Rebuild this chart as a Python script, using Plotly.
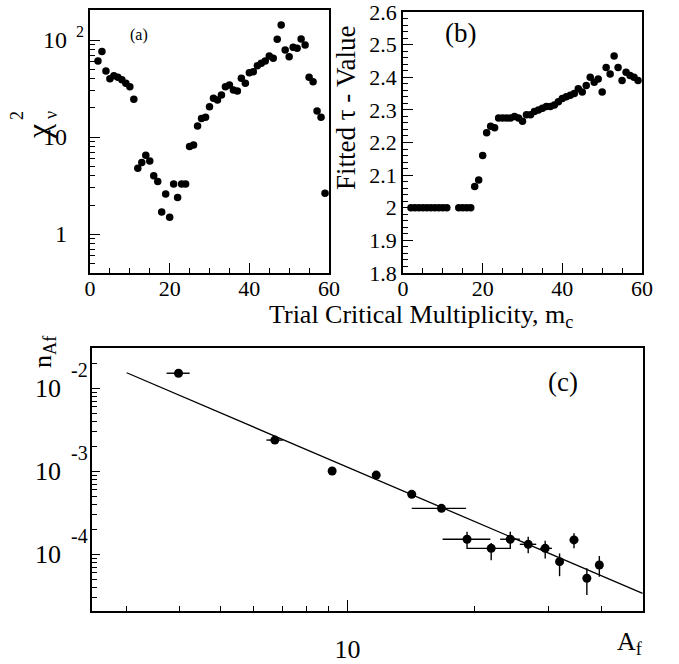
import numpy as np
import plotly.graph_objects as go

W, H = 679, 664
FONT = "Liberation Serif"

# ---------------- Panel (a): reduced chi^2 vs trial critical multiplicity
m_a = list(range(2, 60))
chi2_a = [61, 76, 48, 40, 43, 41.5, 39, 36, 33, 24.5,
          4.8, 5.5, 6.5, 5.7, 4.0, 3.5, 1.7, 2.6, 1.5, 3.3,
          2.4, 3.3, 3.3, 8.0, 8.3, 13.0, 15.6, 16.0, 20.6, 25.1,
          24.1, 27.2, 33.1, 34.4, 30.6, 29.9, 40.4, 35.8, 46.1, 47.2,
          54.5, 57.5, 60.8, 68.4, 64.8, 101.6, 142.6, 78.9, 67.3, 84.1,
          82.2, 102.4, 88.9, 41.3, 37.2, 18.6, 16.0, 2.65]

# ---------------- Panel (b): fitted tau vs trial critical multiplicity
m_b = [2, 3, 4, 5, 6, 7, 8, 9, 10, 11, 14, 15, 16, 17] + list(range(18, 60))
tau_b = [2.0, 2.0, 2.0, 2.0, 2.0, 2.0, 2.0, 2.0, 2.0, 2.0, 2.0, 2.0, 2.0, 2.0,
         2.065, 2.085, 2.16, 2.23, 2.25, 2.245, 2.275, 2.275, 2.275, 2.275,
         2.28, 2.275, 2.265, 2.285, 2.285, 2.295, 2.30, 2.305, 2.31, 2.31,
         2.315, 2.325, 2.335, 2.34, 2.345, 2.35, 2.365, 2.355, 2.375, 2.40,
         2.385, 2.395, 2.355, 2.43, 2.41, 2.465, 2.43, 2.39, 2.415, 2.405,
         2.40, 2.39]

# ---------------- Panel (c): fragment yield vs fragment mass
Af = [3.98, 6.73, 9.2, 11.7, 14.2, 16.7, 19.2, 21.9, 24.3, 26.8, 29.4, 31.8, 34.4, 36.9, 39.5]
nAf = [1.52e-2, 2.38e-3, 1.01e-3, 9.0e-4, 5.28e-4, 3.58e-4, 1.52e-4, 1.18e-4,
       1.52e-4, 1.32e-4, 1.18e-4, 8.15e-5, 1.49e-4, 5.14e-5, 7.43e-5]
Af_err_minus = [0.25, 0.3, 0, 0, 0, 2.5, 2.4, 2.7, 1.3, 1.2, 0.8, 0.6, 0.8, 0.4, 0.8]
Af_err_plus = [0.25, 0.3, 0, 0, 0, 2.4, 2.6, 2.4, 1.3, 1.2, 1.1, 0.6, 0.8, 0.4, 0.8]
n_err_plus = [0, 0, 0, 0, 0, 0, 3.5e-5, 1.9e-5, 3.5e-5, 3.1e-5, 2.8e-5, 2.1e-5, 3.0e-5, 1.64e-5, 2.1e-5]
n_err_minus = [0, 0, 0, 0, 0, 0, 3.6e-5, 3.3e-5, 3.6e-5, 2.9e-5, 2.9e-5, 2.7e-5, 3.1e-5, 1.9e-5, 2.06e-5]
fit_Af = [3.0, 50.0]
fit_n = [1.54e-2, 3.39e-5]

# tick labels
a_x_ticks = [0, 20, 40, 60]
a_y_ticks = [1, 10, 100]
b_y_ticks = [1.8, 1.9, 2.0, 2.1, 2.2, 2.3, 2.4, 2.5, 2.6]
b_y_text = ["1.8", "1.9", "2", "2.1", "2.2", "2.3", "2.4", "2.5", "2.6"]
c_x_ticks = [10]
c_y_decades = [-2, -3, -4]


def px(x):
    return x / W


def py(y):
    return 1 - y / H


fig = go.Figure()
mk = dict(color="black", size=7.5)
fig.add_trace(go.Scatter(x=m_a, y=chi2_a, mode="markers", marker=mk, xaxis="x", yaxis="y"))
fig.add_trace(go.Scatter(x=m_b, y=tau_b, mode="markers", marker=mk, xaxis="x2", yaxis="y2"))
fig.add_trace(go.Scatter(x=fit_Af, y=fit_n, mode="lines", line=dict(color="black", width=1.3),
                         xaxis="x3", yaxis="y3"))
fig.add_trace(go.Scatter(
    x=Af, y=nAf, mode="markers", marker=dict(color="black", size=9), xaxis="x3", yaxis="y3",
    error_x=dict(type="data", symmetric=False, array=Af_err_plus, arrayminus=Af_err_minus,
                 color="black", thickness=1.4, width=0),
    error_y=dict(type="data", symmetric=False, array=n_err_plus, arrayminus=n_err_minus,
                 color="black", thickness=1.4, width=0)))

tickfont = dict(family=FONT, size=22, color="black")
common = dict(showline=True, linecolor="black", linewidth=1.5, mirror=True, showgrid=False,
              zeroline=False, ticks="inside", tickcolor="black", tickwidth=1.2, tickfont=tickfont,
              ticklabeloverflow="allow", automargin=False)

lin_minor = dict(ticks="inside", ticklen=5, tickcolor="black", tickwidth=1, showgrid=False)


def log_minor(decs):
    vals = [k * 10.0 ** d for d in decs for k in range(2, 10)]
    return dict(ticks="inside", ticklen=5, tickcolor="black", tickwidth=1, showgrid=False,
                tickmode="array", tickvals=vals)


layout = dict(
    template="none",
    width=W, height=H, margin=dict(l=0, r=0, t=0, b=0, autoexpand=False),
    paper_bgcolor="white", plot_bgcolor="white", showlegend=False,
    font=dict(family=FONT, color="black"),
    xaxis=dict(domain=[px(90), px(329)], range=[0, 60], tickmode="array", tickvals=a_x_ticks,
               ticklen=10, ticklabelstandoff=-5, minor=dict(dtick=5, **lin_minor), anchor="y",
               **common),
    yaxis=dict(domain=[py(273), py(10)], type="log", range=[-0.398, 2.309], tickmode="array",
               tickvals=a_y_ticks, ticklen=10, showticklabels=False,
               minor=log_minor([-1, 0, 1, 2]), anchor="x", **common),
    xaxis2=dict(domain=[px(403), px(642)], range=[0, 60], tickmode="array", tickvals=a_x_ticks,
                ticklen=10, ticklabelstandoff=-5, minor=dict(dtick=5, **lin_minor), anchor="y2",
                **common),
    yaxis2=dict(domain=[py(273), py(12)], range=[1.8, 2.6], tickmode="array", tickvals=b_y_ticks,
                ticktext=b_y_text, ticklen=10, minor=dict(dtick=0.02, **lin_minor),
                anchor="x2", **common),
    xaxis3=dict(domain=[px(92), px(643)], type="log", range=[0.395, 1.700], tickmode="array",
                tickvals=c_x_ticks, ticktext=["10"], ticklen=11, ticklabelstandoff=14,
                minor=dict(ticks="inside", ticklen=5, tickcolor="black", tickwidth=1,
                           showgrid=False, tickmode="array",
                           tickvals=[3, 4, 5, 6, 7, 8, 9, 20, 30, 40]),
                anchor="y3", **{**common, "tickfont": dict(family=FONT, size=26, color="black")}),
    yaxis3=dict(domain=[py(611), py(348)], type="log", range=[-4.683, -1.514], tickmode="array",
                tickvals=[10.0 ** d for d in c_y_decades], ticklen=8, showticklabels=False,
                minor=log_minor([-5, -4, -3, -2]), anchor="x3", **common),
)
fig.update_layout(**layout)

ann = []


def txt(x, y, s, size, angle=0, xanchor="center", yanchor="middle", **kw):
    ann.append(dict(x=x, y=y, text=s, showarrow=False, textangle=angle, xanchor=xanchor,
                    yanchor=yanchor, font=dict(family=FONT, size=size, color="black"), **kw))


# panel (a) y tick labels
for v in a_y_ticks:
    txt(px(69), np.log10(v), "10" if v >= 10 else "1", 24, xanchor="right",
        xref="paper", yref="y")
txt(px(74), np.log10(100), "2", 16, xanchor="left", xref="paper", yref="y", yshift=9)

# panel (c) y tick labels
for d in c_y_decades:
    txt(px(63), d, "10", 26, xanchor="right", xref="paper", yref="y3")
    txt(px(69), d, str(d), 20, xanchor="left", xref="paper", yref="y3", yshift=18)

# titles and panel tags
txt(px(139), py(35), "(a)", 16, xref="paper", yref="paper")
txt(px(460), py(33), "(b)", 27, xref="paper", yref="paper")
txt(px(563), py(382), "(c)", 27, xref="paper", yref="paper")
# chi^2_nu title, built from its three glyph groups (rotated)
txt(px(38), py(131), "χ", 32, angle=-90, xref="paper", yref="paper")
txt(px(17), py(116), "2", 18, angle=-90, xref="paper", yref="paper")
txt(px(51), py(115), "ν", 18, angle=-90, xref="paper", yref="paper")
txt(px(346), py(108), "Fitted τ - Value", 27, angle=-90, xref="paper", yref="paper")
txt(px(421), py(316), "Trial Critical Multiplicity, m<sub>c</sub>", 26, xref="paper", yref="paper")
txt(px(44), py(352), "n<sub>Af</sub>", 26, angle=-90, xref="paper", yref="paper")
txt(px(630), py(643), "A<sub>f</sub>", 26, xref="paper", yref="paper")

fig.update_layout(annotations=ann)
fig.write_html("out.html")
